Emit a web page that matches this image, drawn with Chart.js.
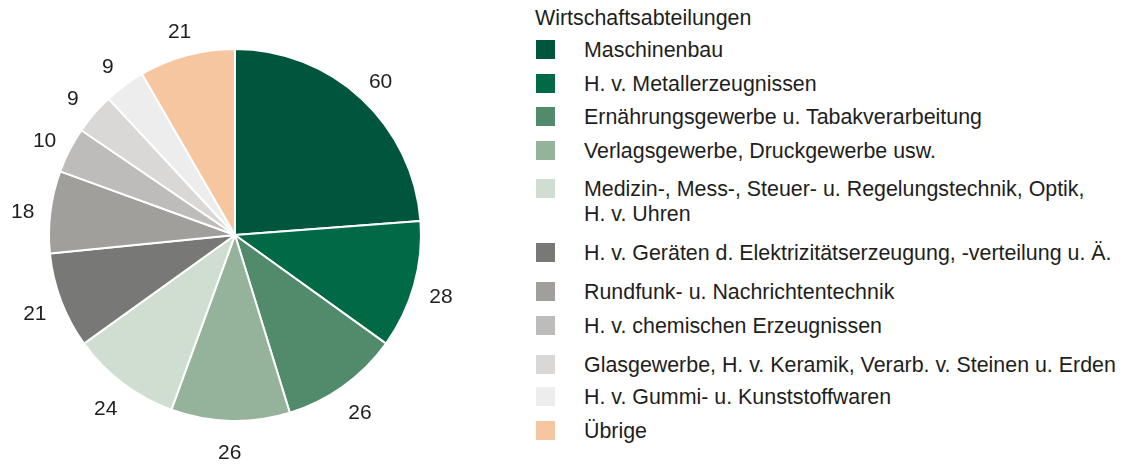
<!DOCTYPE html>
<html>
<head>
<meta charset="utf-8">
<script src="https://cdn.jsdelivr.net/npm/chart.js@4.4.1/dist/chart.umd.min.js"></script>
<style>
  html, body { margin: 0; padding: 0; background: #fff; overflow: hidden; }
  body { width: 1124px; height: 465px; position: relative; font-family: "Liberation Sans", Arial, sans-serif; color: #1e1e1e; }
  #pieBox { position: absolute; left: 0; top: 0; width: 470px; height: 470px; }
  #legend { position: absolute; left: 0; top: 0; }
  .title { position: absolute; left: 535px; font-size: 21.4px; line-height: 24px; white-space: nowrap; }
  .item { position: absolute; left: 536px; white-space: nowrap; font-size: 21.4px; line-height: 25px; }
  .sw { position: absolute; left: 0; width: 19px; height: 19px; }
  .txt { position: absolute; left: 48px; top: 1px; }
</style>
</head>
<body>
<div id="pieBox"><canvas id="pieChart"></canvas></div>
<div id="legend"></div>
<script>
// Data
const categories = [
    'Maschinenbau',
    'H. v. Metallerzeugnissen',
    'Ernährungsgewerbe u. Tabakverarbeitung',
    'Verlagsgewerbe, Druckgewerbe usw.',
    'Medizin-, Mess-, Steuer- u. Regelungstechnik, Optik,\nH. v. Uhren',
    'H. v. Geräten d. Elektrizitätserzeugung, -verteilung u. Ä.',
    'Rundfunk- u. Nachrichtentechnik',
    'H. v. chemischen Erzeugnissen',
    'Glasgewerbe, H. v. Keramik, Verarb. v. Steinen u. Erden',
    'H. v. Gummi- u. Kunststoffwaren',
    'Übrige'
];
const values = [60, 28, 26, 26, 24, 21, 18, 10, 9, 9, 21];
const legendTitle = 'Wirtschaftsabteilungen';

// Styles
const colors = ['#00563d', '#006945', '#518b6b', '#94b39a', '#cfded0', '#787876', '#a09f9b', '#bdbcba', '#d9d8d6', '#ededed', '#f6c6a0'];
const legendRowCenters = [49, 83, 116, 150, 188, 252, 291, 325, 364, 396, 430];

// Build HTML legend
const legendEl = document.getElementById('legend');
const titleEl = document.createElement('div');
titleEl.className = 'title';
titleEl.style.top = (18 - 12) + 'px';
titleEl.textContent = legendTitle;
legendEl.appendChild(titleEl);

categories.forEach((cat, i) => {
    const lines = cat.split('\n');
    const item = document.createElement('div');
    item.className = 'item';
    item.style.top = (legendRowCenters[i] - 12.5) + 'px';
    const sw = document.createElement('div');
    sw.className = 'sw';
    sw.style.background = colors[i];
    sw.style.top = '3px';
    const txt = document.createElement('div');
    txt.className = 'txt';
    txt.innerHTML = lines.join('<br>');
    item.appendChild(sw);
    item.appendChild(txt);
    legendEl.appendChild(item);
});

// Value labels outside the slices
const outsideLabels = {
    id: 'outsideLabels',
    afterDatasetsDraw(chart) {
        const ctx = chart.ctx;
        const meta = chart.getDatasetMeta(0);
        ctx.save();
        ctx.font = '21px "Liberation Sans", Arial, sans-serif';
        ctx.fillStyle = '#1e1e1e';
        ctx.textAlign = 'center';
        ctx.textBaseline = 'middle';
        meta.data.forEach((arc, i) => {
            const p = arc.getProps(['x', 'y', 'startAngle', 'endAngle', 'outerRadius'], true);
            const mid = (p.startAngle + p.endAngle) / 2;
            const r = p.outerRadius + 28;
            ctx.fillText(String(values[i]), p.x + Math.cos(mid) * r, p.y + Math.sin(mid) * r + 4);
        });
        ctx.restore();
    }
};

const pieCtx = document.getElementById('pieChart').getContext('2d');
const pieChart = new Chart(pieCtx, {
    type: 'pie',
    data: {
        labels: categories,
        datasets: [{ data: values, backgroundColor: colors, borderColor: '#ffffff', borderWidth: 2 }]
    },
    options: {
        responsive: true,
        maintainAspectRatio: false,
        animation: false,
        layout: { padding: 48 },
        plugins: { legend: { display: false }, tooltip: { enabled: false } }
    },
    plugins: [outsideLabels]
});
</script>
</body>
</html>
